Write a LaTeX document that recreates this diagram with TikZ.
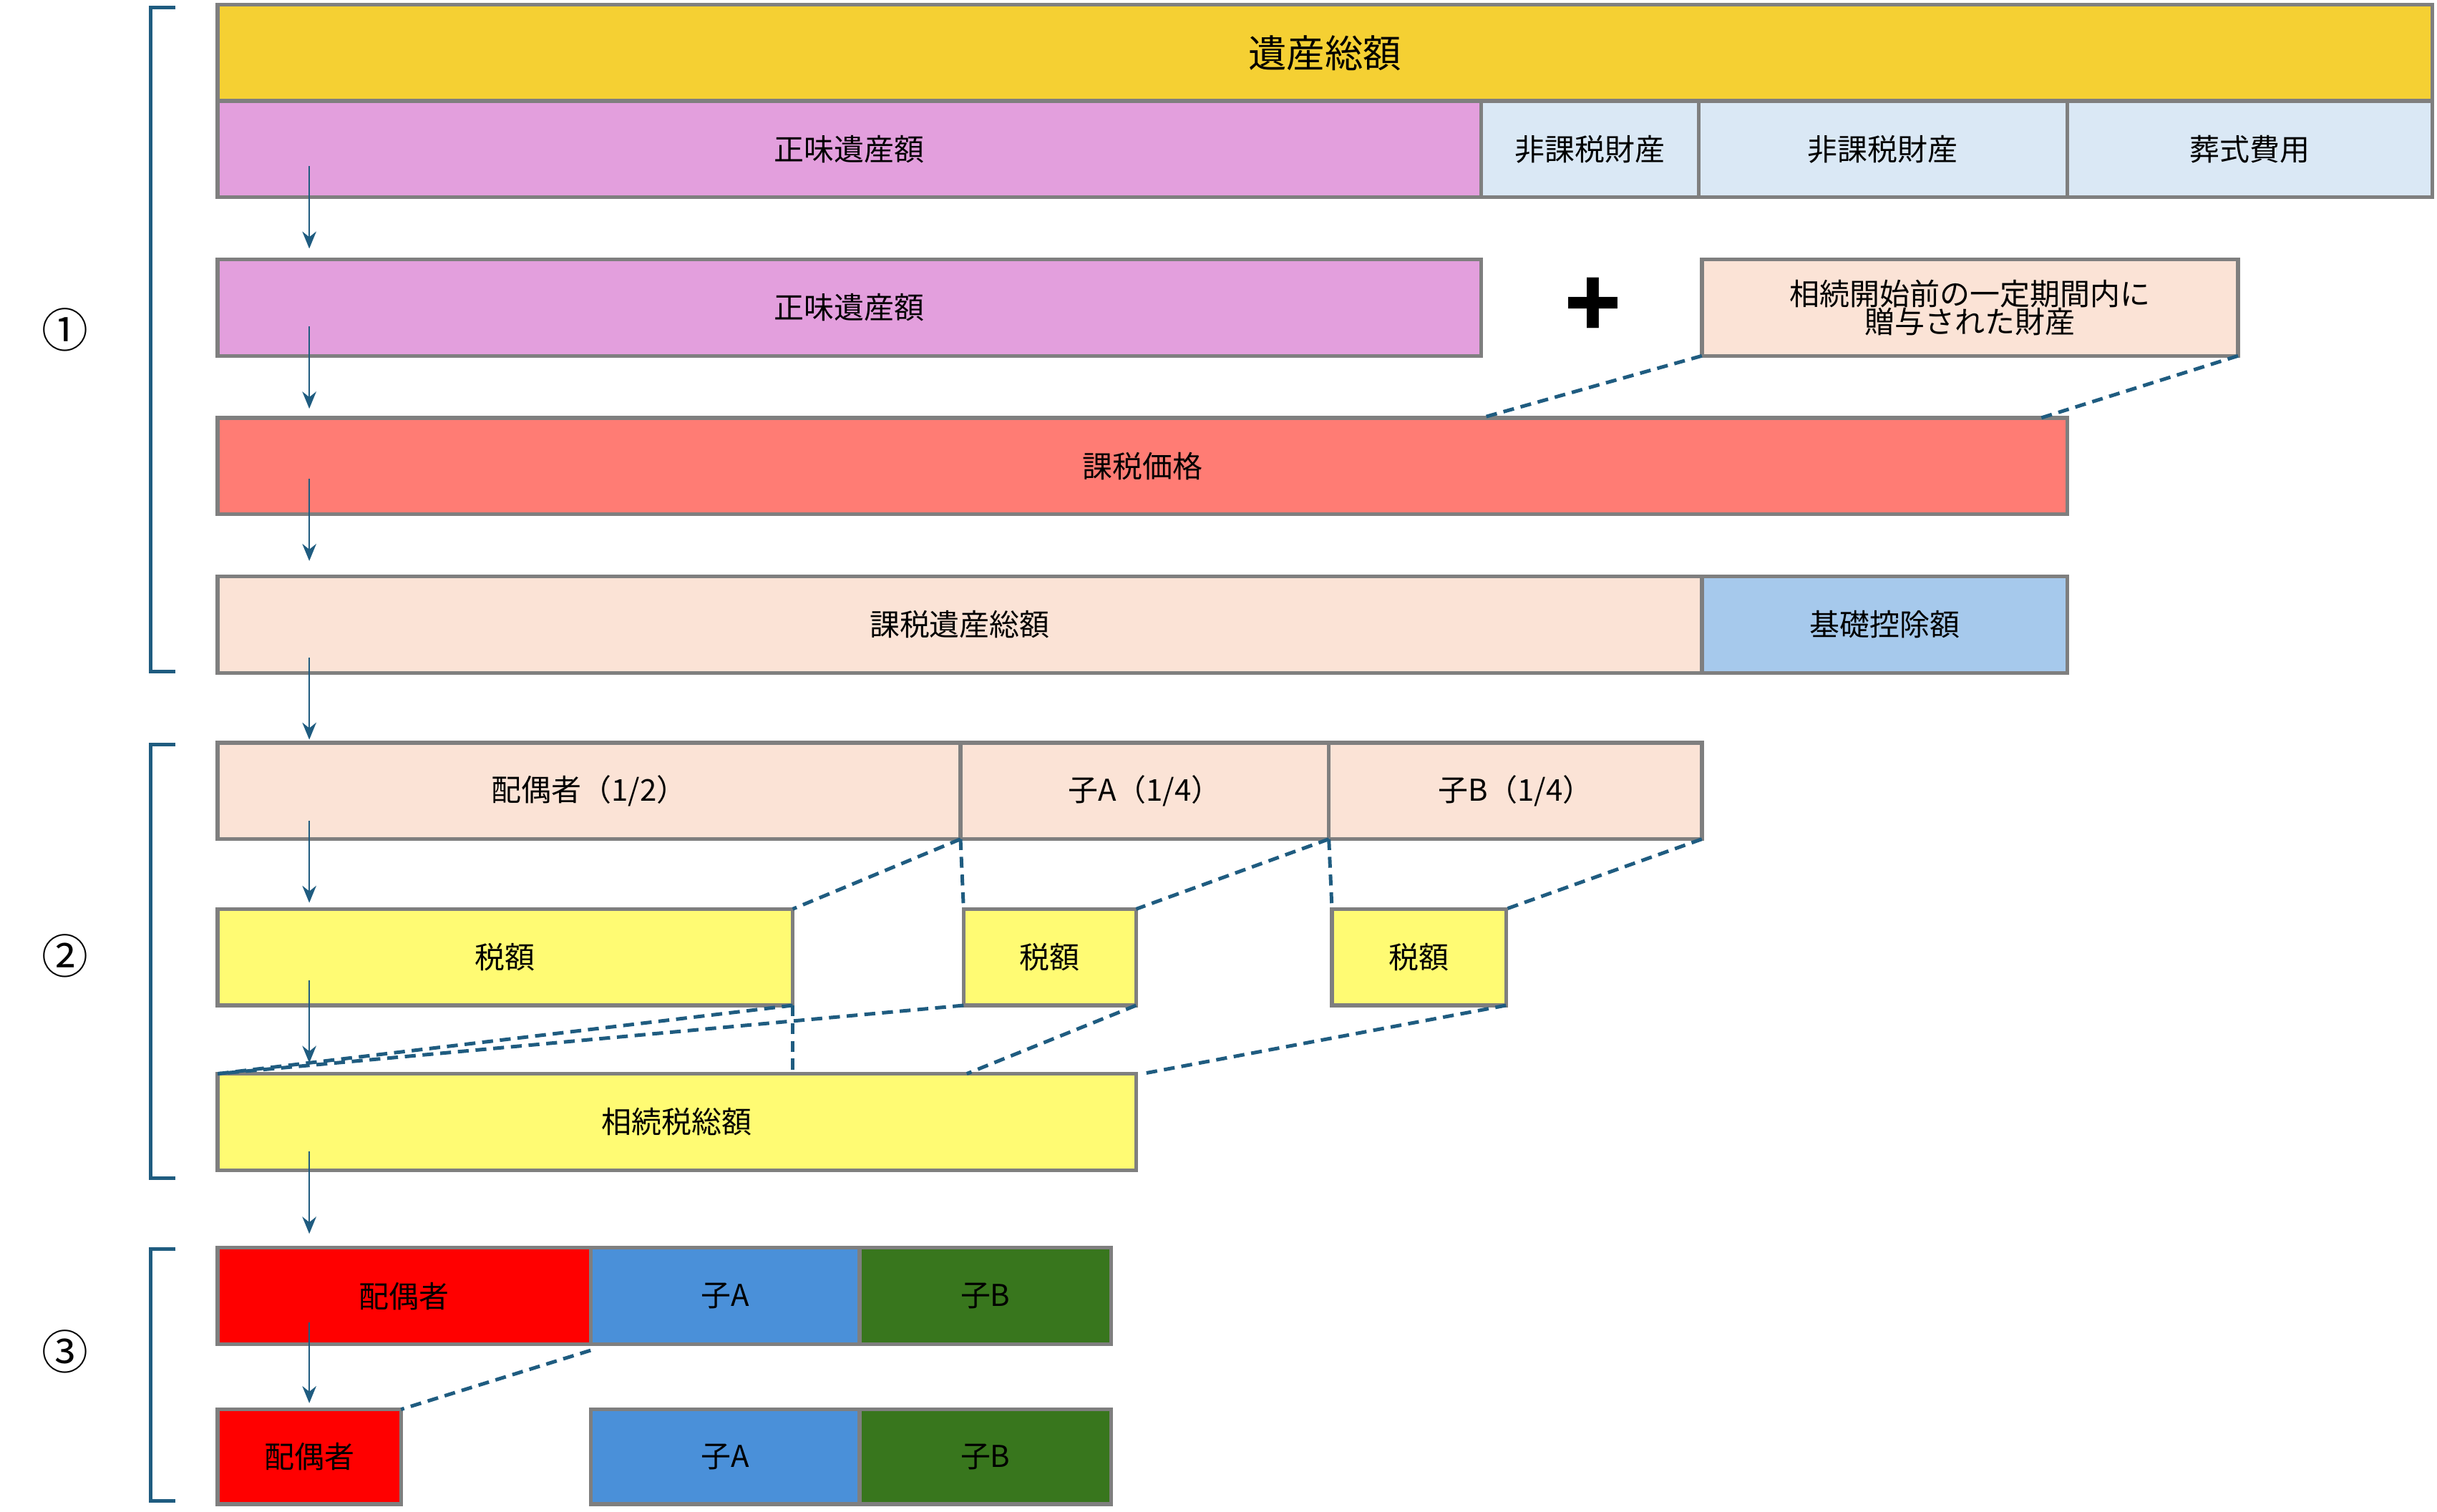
\documentclass[tikz,border=0pt]{standalone}
\usepackage{fontspec}
\setmainfont{Noto Sans CJK JP}
\usetikzlibrary{arrows.meta,calc}
\definecolor{gold}{HTML}{F5D033}
\definecolor{pinkm}{HTML}{E39FDD}
\definecolor{paleb}{HTML}{DAE8F5}
\definecolor{peach}{HTML}{FBE3D6}
\definecolor{salmon}{HTML}{FF7C74}
\definecolor{skyb}{HTML}{A6C9EC}
\definecolor{yel}{HTML}{FFFB73}
\definecolor{redc}{HTML}{FF0000}
\definecolor{bluc}{HTML}{4A90D9}
\definecolor{grnc}{HTML}{38761D}
\definecolor{teal}{HTML}{1F5C80}
\definecolor{edge}{HTML}{7F7F7F}
\tikzset{
  box/.style={draw=edge, line width=1.4pt, inner sep=0pt, outer sep=0pt, font=\fontsize{11}{13}\selectfont},
  link/.style={teal, line width=1.3pt, dash pattern=on 4pt off 2.5pt},
  arr/.style={teal, line width=0.6pt, -{Stealth[length=2.2mm, width=1.8mm]}},
  brk/.style={teal, line width=1.3pt}
}
% box: name, x1, y1, x2, y2, fill, text
\newcommand{\bx}[7]{\node[box, fill=#6, minimum width={(#4-#2)*0.02cm}, minimum height={(#5-#3)*0.02cm}, align=center] (#1) at ({(#2+#4)/2},{(#3+#5)/2}) {#7};}
\begin{document}
\begin{tikzpicture}[x=0.02cm, y=-0.02cm]
\useasboundingbox (0,0) rectangle (1568,973);
			% brackets and step numbers
			\foreach \t/\b/\m/\n in {5/432/212/①, 479/758/615/②, 804/966/870/③}
			{	\draw[brk] (113,\t) -- (97,\t) -- (97,\b) -- (113,\b);
				\node[font=\fontsize{17}{17}\selectfont] (n\m) at (42,\m) {\n};}
			
			\bx{total}{140}{3}{1565}{65}{gold}{\fontsize{14}{16}\selectfont 遺産総額}
			\bx{net}{140}{65}{953}{127}{pinkm}{正味遺産額}
			\bx{ex1}{953}{65}{1093}{127}{paleb}{非課税財産}
			\bx{ex2}{1093}{65}{1330}{127}{paleb}{非課税財産}
			\bx{fun}{1330}{65}{1565}{127}{paleb}{葬式費用}
			
			\bx{net2}{140}{167}{953}{229}{pinkm}{正味遺産額}
			\node[font=\fontsize{34}{34}\selectfont\bfseries] (plus) at (1025,198) {+};
			\bx{gift}{1095}{167}{1440}{229}{peach}{相続開始前の一定期間内に\\[-3pt]贈与された財産}
			\bx{kz}{140}{269}{1330}{331}{salmon}{課税価格}
			\bx{kzt}{140}{371}{1095}{433}{peach}{課税遺産総額}
			\bx{kiso}{1095}{371}{1330}{433}{skyb}{基礎控除額}
			
			\bx{sp}{140}{478}{618}{540}{peach}{配偶者（1/2）}
			\bx{ca}{618}{478}{855}{540}{peach}{子A（1/4）}
			\bx{cb}{855}{478}{1095}{540}{peach}{子B（1/4）}
			\bx{t1}{140}{585}{510}{647}{yel}{税額}
			\bx{t2}{620}{585}{731}{647}{yel}{税額}
			\bx{t3}{857}{585}{969}{647}{yel}{税額}
			\bx{sum}{140}{691}{731}{753}{yel}{相続税総額}
			
			\bx{p1}{140}{803}{380}{865}{redc}{配偶者}
			\bx{a1}{380}{803}{553}{865}{bluc}{子A}
			\bx{b1}{553}{803}{715}{865}{grnc}{子B}
			\bx{p2}{140}{907}{258}{968}{redc}{配偶者}
			\bx{a2}{380}{907}{553}{968}{bluc}{子A}
			\bx{b2}{553}{907}{715}{968}{grnc}{子B}
			
			\coordinate (kz1) at (953,269);
			\coordinate (kz2) at (1313,269);
			\coordinate (sm1) at (622,691);
			\coordinate (sm2) at (735,691);
			\coordinate (pe) at (380,869);
			\draw[link] (gift.south west) -- (kz1);
			\draw[link] (gift.south east) -- (kz2);
			\def\links {sp.south east/t1.north east, ca.south west/t2.north west, ca.south east/t2.north east, cb.south west/t3.north west, cb.south east/t3.north east, t1.south east/sum.north west, t2.south west/sum.north west, t2.south east/sm1, t3.south east/sm2, pe/p2.north east}  % dashed links
			\foreach \u/\v in \links
			{	\draw[link] (\u) -- (\v);}
			\draw[link] (t1.south east) -- ($(t1.south east)!1!(t1.south east |- sum.north)$);
			
			\foreach \a/\b [count=\i] in {107/160, 210/263, 308/361, 423/476, 528/581, 631/684, 741/794, 851/903}
			{	\coordinate (s\i) at (199,\a);
				\coordinate (e\i) at (199,\b);
				\draw[arr] (s\i) -- (e\i);}
\end{tikzpicture}
\end{document}
